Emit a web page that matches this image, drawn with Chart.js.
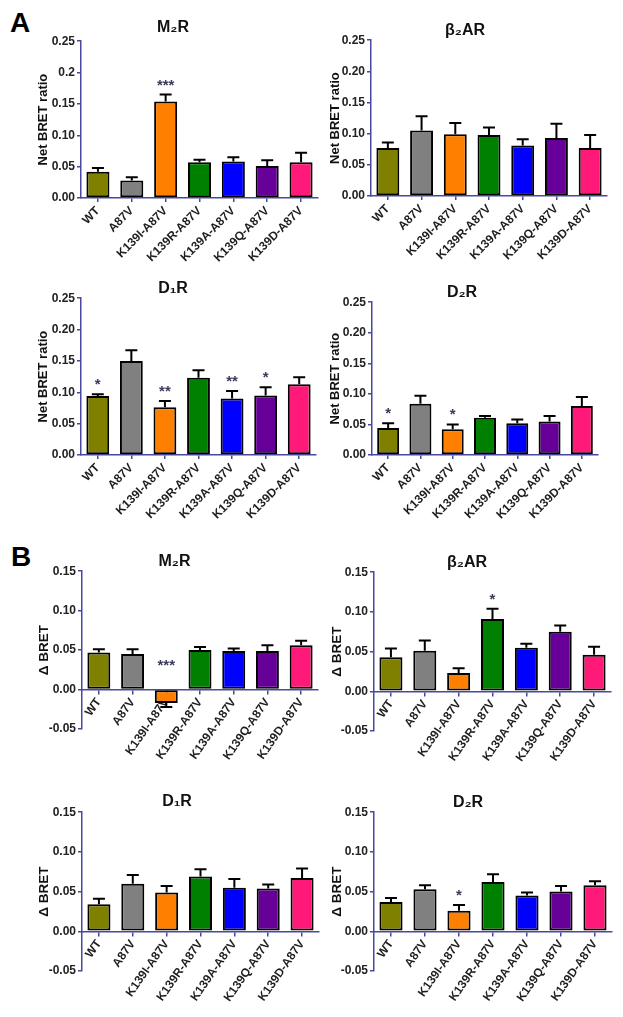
<!DOCTYPE html>
<html>
<head>
<meta charset="utf-8">
<script src="https://cdn.jsdelivr.net/npm/chart.js@4.4.0/dist/chart.umd.min.js"></script>
<style>
body { margin: 0; background: #fff; width: 623px; height: 1017px; position: relative; overflow: hidden; font-family: 'Liberation Sans', Arial, sans-serif; }
canvas { position: absolute; }
.lbl { position: absolute; font-weight: bold; font-size: 28px; line-height: 1; color: #000; }
</style>
</head>
<body>
<div class="lbl" style="left:10px;top:9px">A</div>
<div class="lbl" style="left:11px;top:543px">B</div>
<script>
// categories and bar colours
const categories = ['WT', 'A87V', 'K139I-A87V', 'K139R-A87V', 'K139A-A87V', 'K139Q-A87V', 'K139D-A87V'];
const barColors = ['#808000', '#808080', '#ff8000', '#008000', '#0000ff', '#660099', '#ff1a7a'];

// A: Net BRET ratio
const aM2R = [0.042, 0.028, 0.154, 0.057, 0.058, 0.051, 0.057];
const aM2RErr = [0.006, 0.005, 0.011, 0.004, 0.007, 0.009, 0.015];
const aM2RStars = ['', '', '***', '', '', '', ''];

const aB2AR = [0.077, 0.105, 0.099, 0.098, 0.081, 0.093, 0.077];
const aB2ARErr = [0.009, 0.023, 0.018, 0.012, 0.010, 0.023, 0.021];
const aB2ARStars = ['', '', '', '', '', '', ''];

const aD1R = [0.094, 0.150, 0.076, 0.123, 0.090, 0.095, 0.113];
const aD1RErr = [0.003, 0.017, 0.010, 0.012, 0.012, 0.013, 0.011];
const aD1RStars = ['*', '', '**', '', '**', '*', ''];

const aD2R = [0.044, 0.084, 0.042, 0.061, 0.052, 0.055, 0.080];
const aD2RErr = [0.008, 0.013, 0.008, 0.003, 0.006, 0.009, 0.015];
const aD2RStars = ['*', '', '*', '', '', '', ''];

// B: delta BRET
const bM2R = [0.047, 0.045, -0.017, 0.050, 0.049, 0.049, 0.056];
const bM2RErr = [0.004, 0.006, 0.005, 0.004, 0.003, 0.007, 0.006];
const bM2RStars = ['', '', '***', '', '', '', ''];

const bB2AR = [0.043, 0.051, 0.023, 0.091, 0.055, 0.075, 0.046];
const bB2ARErr = [0.011, 0.013, 0.006, 0.013, 0.005, 0.008, 0.010];
const bB2ARStars = ['', '', '', '*', '', '', ''];

const bD1R = [0.034, 0.060, 0.049, 0.069, 0.055, 0.054, 0.067];
const bD1RErr = [0.007, 0.011, 0.008, 0.009, 0.011, 0.005, 0.012];
const bD1RStars = ['', '', '', '', '', '', ''];

const bD2R = [0.037, 0.053, 0.026, 0.062, 0.045, 0.050, 0.058];
const bD2RErr = [0.005, 0.005, 0.007, 0.010, 0.004, 0.007, 0.005];
const bD2RStars = ['', '', '*', '', '', '', ''];

// tick labels
const yTicksAM2R = ['0.00', '0.05', '0.10', '0.15', '0.2', '0.25'];
const yTicksA = ['0.00', '0.05', '0.10', '0.15', '0.20', '0.25'];
const yTicksB = ['-0.05', '0.00', '0.05', '0.10', '0.15'];

const FONT = "'Liberation Sans', Arial, sans-serif";
const axisColor = '#4848a0';
const starColor = '#3b3b5c';

// panel placement on the page
const panels = [
    { title: 'M₂R', values: aM2R, errs: aM2RErr, stars: aM2RStars, ticks: yTicksAM2R, part: 'A', L: 28, T: 14, pb: 4, left: 81, right: 318, bottom: 198, yPad: 8 },
    { title: 'β₂AR', values: aB2AR, errs: aB2ARErr, stars: aB2ARStars, ticks: yTicksA, part: 'A', L: 323, T: 17, pb: 0, left: 371, right: 607, bottom: 196, yPad: 5 },
    { title: 'D₁R', values: aD1R, errs: aD1RErr, stars: aD1RStars, ticks: yTicksA, part: 'A', L: 30, T: 275, pb: 0, left: 81, right: 316, bottom: 455, yPad: 6 },
    { title: 'D₂R', values: aD2R, errs: aD2RErr, stars: aD2RStars, ticks: yTicksA, part: 'A', L: 326, T: 279, pb: 0, left: 372, right: 598, bottom: 455, yPad: 2 },
    { title: 'M₂R', values: bM2R, errs: bM2RErr, stars: bM2RStars, ticks: yTicksB, part: 'B', L: 31, T: 548, pb: 0, left: 82, right: 318, bottom: 729, yPad: 5 },
    { title: 'β₂AR', values: bB2AR, errs: bB2ARErr, stars: bB2ARStars, ticks: yTicksB, part: 'B', L: 323, T: 549, pb: 0, left: 374, right: 611, bottom: 731, yPad: 6.5 },
    { title: 'D₁R', values: bD1R, errs: bD1RErr, stars: bD1RStars, ticks: yTicksB, part: 'B', L: 35, T: 788, pb: 1, left: 82, right: 319, bottom: 971, yPad: 1 },
    { title: 'D₂R', values: bD2R, errs: bD2RErr, stars: bD2RStars, ticks: yTicksB, part: 'B', L: 324, T: 789, pb: 0, left: 374, right: 612, bottom: 971, yPad: 5.5 }
];

// error bars (upward for positive, downward for negative) and significance stars
function errorPlugin(p) {
    return {
        id: 'errbars',
        afterDatasetsDraw(chart) {
            const ctx = chart.ctx;
            const ys = chart.scales.y;
            const meta = chart.getDatasetMeta(0);
            ctx.save();
            meta.data.forEach((bar, i) => {
                const v = p.values[i];
                const e = p.errs[i];
                const end = v >= 0 ? v + e : v - e;
                const y0 = ys.getPixelForValue(v);
                const y1 = ys.getPixelForValue(end);
                ctx.strokeStyle = '#000';
                ctx.lineWidth = 2;
                ctx.beginPath();
                ctx.moveTo(bar.x, y0);
                ctx.lineTo(bar.x, y1);
                ctx.moveTo(bar.x - 6, y1);
                ctx.lineTo(bar.x + 6, y1);
                ctx.stroke();
                if (p.stars[i]) {
                    const base = v >= 0 ? y1 - 5 : ys.getPixelForValue(0) - 20;
                    ctx.fillStyle = starColor;
                    ctx.font = 'bold 15px ' + FONT;
                    ctx.textAlign = 'center';
                    ctx.textBaseline = 'alphabetic';
                    ctx.fillText(p.stars[i], bar.x, base);
                }
            });
            ctx.restore();
        }
    };
}

panels.forEach(p => {
    const isB = p.part === 'B';
    const W = p.right + 12 - p.L;
    const padBottom = isB ? 50 : 0;
    const xHeight = isB ? 0 : 64;
    const H = p.bottom + (isB ? padBottom : xHeight) - p.T;

    const canvas = document.createElement('canvas');
    canvas.width = W;
    canvas.height = H;
    canvas.style.left = p.L + 'px';
    canvas.style.top = p.T + 'px';
    canvas.style.width = W + 'px';
    canvas.style.height = H + 'px';
    document.body.appendChild(canvas);

    new Chart(canvas.getContext('2d'), {
        type: 'bar',
        data: {
            labels: categories,
            datasets: [{
                data: p.values,
                backgroundColor: barColors,
                borderColor: '#000',
                borderWidth: 2,
                borderSkipped: false,
                barPercentage: 0.68,
                categoryPercentage: 1
            }]
        },
        options: {
            responsive: false,
            animation: false,
            devicePixelRatio: 1,
            layout: { padding: { left: 0, top: 0, right: W - (p.right - p.L), bottom: padBottom } },
            plugins: {
                legend: { display: false },
                tooltip: { enabled: false },
                title: {
                    display: true,
                    text: p.title,
                    color: '#111',
                    font: { family: FONT, size: 16, weight: 'bold' },
                    lineHeight: 1.125,
                    padding: { top: 4, bottom: p.pb }
                }
            },
            scales: {
                x: {
                    position: isB ? { y: 0 } : 'bottom',
                    ticks: {
                        autoSkip: false,
                        maxRotation: isB ? 55 : 45,
                        minRotation: isB ? 55 : 45,
                        padding: 2,
                        color: '#1e1e1e',
                        font: { family: FONT, size: 12, weight: 'bold' }
                    },
                    grid: { display: true, drawOnChartArea: false, offset: false, tickLength: 4, color: axisColor, lineWidth: 1.5 },
                    border: { display: true, color: axisColor, width: 1.5 },
                    afterFit: s => { s.height = xHeight; }
                },
                y: {
                    min: isB ? -0.05 : 0,
                    max: isB ? 0.15 : 0.25,
                    ticks: {
                        stepSize: 0.05,
                        padding: 2,
                        color: '#222',
                        font: { family: FONT, size: 12, weight: 'bold' },
                        callback: (v, i) => p.ticks[i]
                    },
                    grid: { display: true, drawOnChartArea: false, tickLength: 4, color: axisColor, lineWidth: 1.5 },
                    border: { display: true, color: axisColor, width: 1.5 },
                    title: {
                        display: true,
                        text: isB ? 'Δ BRET' : 'Net BRET ratio',
                        color: '#111',
                        font: { family: FONT, size: isB ? 13.5 : 13, weight: 'bold' },
                        padding: { top: p.yPad, bottom: 0 }
                    },
                    afterFit: s => { s.width = p.left - p.L; }
                }
            }
        },
        plugins: [errorPlugin(p)]
    });
});
</script>
</body>
</html>
